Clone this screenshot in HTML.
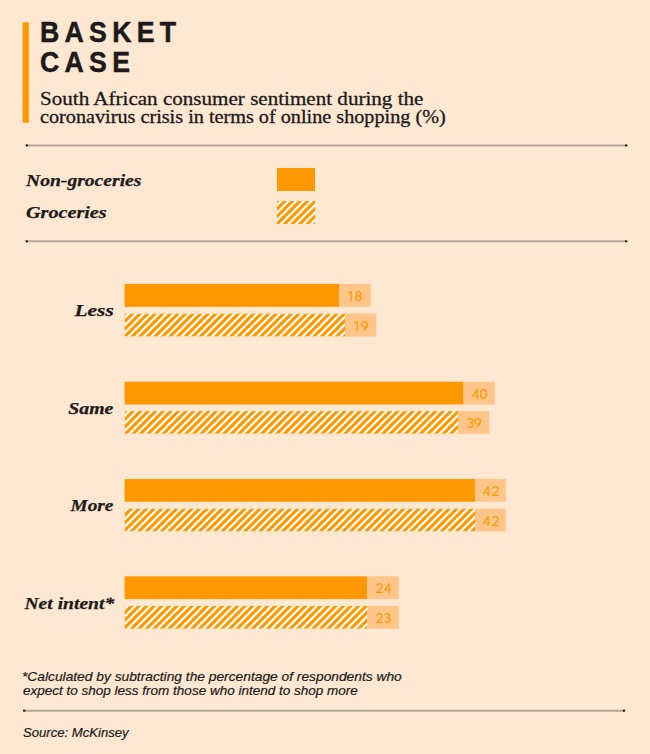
<!DOCTYPE html>
<html><head><meta charset="utf-8">
<style>
html,body{margin:0;padding:0;}
body{width:650px;height:754px;background:#fee8d2;position:relative;overflow:hidden;font-family:'Liberation Sans',sans-serif;}
.a{position:absolute;white-space:nowrap;}
.solid{background:#ff9800;}
</style></head><body>
<svg style="position:absolute;left:0;top:0" width="650" height="754"><defs><clipPath id="c0"><rect x="277" y="201" width="38" height="23"/></clipPath><clipPath id="c1"><rect x="124.6" y="313.55" width="220.4" height="23.0"/></clipPath><clipPath id="c2"><rect x="124.6" y="411.1" width="333.5" height="22.69999999999999"/></clipPath><clipPath id="c3"><rect x="124.6" y="508.6" width="350.5" height="22.850000000000023"/></clipPath><clipPath id="c4"><rect x="124.6" y="606.0" width="242.70000000000002" height="22.75"/></clipPath></defs><g clip-path="url(#c0)"><rect x="277" y="201" width="38" height="23" fill="#ff9800"/><path d="M265.465 200 L268.576 200 L243.576 225 L240.465 225ZM273.033 200 L276.144 200 L251.144 225 L248.033 225ZM280.600 200 L283.711 200 L258.711 225 L255.600 225ZM288.167 200 L291.279 200 L266.279 225 L263.167 225ZM295.735 200 L298.846 200 L273.846 225 L270.735 225ZM303.302 200 L306.414 200 L281.414 225 L278.302 225ZM310.870 200 L313.981 200 L288.981 225 L285.870 225ZM318.437 200 L321.549 200 L296.549 225 L293.437 225ZM326.005 200 L329.116 200 L304.116 225 L301.005 225ZM333.572 200 L336.683 200 L311.683 225 L308.572 225Z" fill="#ffffff"/></g><g clip-path="url(#c1)"><rect x="124.6" y="313.55" width="220.4" height="23.0" fill="#ff9800"/><path d="M113.115 312.55 L116.226 312.55 L91.226 337.55 L88.115 337.55ZM120.683 312.55 L123.794 312.55 L98.794 337.55 L95.683 337.55ZM128.250 312.55 L131.361 312.55 L106.361 337.55 L103.250 337.55ZM135.817 312.55 L138.929 312.55 L113.929 337.55 L110.817 337.55ZM143.385 312.55 L146.496 312.55 L121.496 337.55 L118.385 337.55ZM150.952 312.55 L154.064 312.55 L129.064 337.55 L125.952 337.55ZM158.520 312.55 L161.631 312.55 L136.631 337.55 L133.520 337.55ZM166.087 312.55 L169.199 312.55 L144.199 337.55 L141.087 337.55ZM173.655 312.55 L176.766 312.55 L151.766 337.55 L148.655 337.55ZM181.222 312.55 L184.333 312.55 L159.333 337.55 L156.222 337.55ZM188.790 312.55 L191.901 312.55 L166.901 337.55 L163.790 337.55ZM196.357 312.55 L199.468 312.55 L174.468 337.55 L171.357 337.55ZM203.925 312.55 L207.036 312.55 L182.036 337.55 L178.925 337.55ZM211.492 312.55 L214.603 312.55 L189.603 337.55 L186.492 337.55ZM219.059 312.55 L222.171 312.55 L197.171 337.55 L194.059 337.55ZM226.627 312.55 L229.738 312.55 L204.738 337.55 L201.627 337.55ZM234.194 312.55 L237.306 312.55 L212.306 337.55 L209.194 337.55ZM241.762 312.55 L244.873 312.55 L219.873 337.55 L216.762 337.55ZM249.329 312.55 L252.441 312.55 L227.441 337.55 L224.329 337.55ZM256.897 312.55 L260.008 312.55 L235.008 337.55 L231.897 337.55ZM264.464 312.55 L267.575 312.55 L242.575 337.55 L239.464 337.55ZM272.032 312.55 L275.143 312.55 L250.143 337.55 L247.032 337.55ZM279.599 312.55 L282.710 312.55 L257.710 337.55 L254.599 337.55ZM287.167 312.55 L290.278 312.55 L265.278 337.55 L262.167 337.55ZM294.734 312.55 L297.845 312.55 L272.845 337.55 L269.734 337.55ZM302.302 312.55 L305.413 312.55 L280.413 337.55 L277.302 337.55ZM309.869 312.55 L312.980 312.55 L287.980 337.55 L284.869 337.55ZM317.436 312.55 L320.548 312.55 L295.548 337.55 L292.436 337.55ZM325.004 312.55 L328.115 312.55 L303.115 337.55 L300.004 337.55ZM332.571 312.55 L335.683 312.55 L310.683 337.55 L307.571 337.55ZM340.139 312.55 L343.250 312.55 L318.250 337.55 L315.139 337.55ZM347.706 312.55 L350.818 312.55 L325.818 337.55 L322.706 337.55ZM355.274 312.55 L358.385 312.55 L333.385 337.55 L330.274 337.55ZM362.841 312.55 L365.952 312.55 L340.952 337.55 L337.841 337.55Z" fill="#ffffff"/></g><g clip-path="url(#c2)"><rect x="124.6" y="411.1" width="333.5" height="22.69999999999999" fill="#ff9800"/><path d="M113.565 410.1 L116.676 410.1 L91.976 434.8 L88.865 434.8ZM121.133 410.1 L124.244 410.1 L99.544 434.8 L96.433 434.8ZM128.700 410.1 L131.811 410.1 L107.111 434.8 L104.000 434.8ZM136.267 410.1 L139.379 410.1 L114.679 434.8 L111.567 434.8ZM143.835 410.1 L146.946 410.1 L122.246 434.8 L119.135 434.8ZM151.402 410.1 L154.514 410.1 L129.814 434.8 L126.702 434.8ZM158.970 410.1 L162.081 410.1 L137.381 434.8 L134.270 434.8ZM166.537 410.1 L169.649 410.1 L144.949 434.8 L141.837 434.8ZM174.105 410.1 L177.216 410.1 L152.516 434.8 L149.405 434.8ZM181.672 410.1 L184.783 410.1 L160.083 434.8 L156.972 434.8ZM189.240 410.1 L192.351 410.1 L167.651 434.8 L164.540 434.8ZM196.807 410.1 L199.918 410.1 L175.218 434.8 L172.107 434.8ZM204.375 410.1 L207.486 410.1 L182.786 434.8 L179.675 434.8ZM211.942 410.1 L215.053 410.1 L190.353 434.8 L187.242 434.8ZM219.509 410.1 L222.621 410.1 L197.921 434.8 L194.809 434.8ZM227.077 410.1 L230.188 410.1 L205.488 434.8 L202.377 434.8ZM234.644 410.1 L237.756 410.1 L213.056 434.8 L209.944 434.8ZM242.212 410.1 L245.323 410.1 L220.623 434.8 L217.512 434.8ZM249.779 410.1 L252.891 410.1 L228.191 434.8 L225.079 434.8ZM257.347 410.1 L260.458 410.1 L235.758 434.8 L232.647 434.8ZM264.914 410.1 L268.025 410.1 L243.325 434.8 L240.214 434.8ZM272.482 410.1 L275.593 410.1 L250.893 434.8 L247.782 434.8ZM280.049 410.1 L283.160 410.1 L258.460 434.8 L255.349 434.8ZM287.617 410.1 L290.728 410.1 L266.028 434.8 L262.917 434.8ZM295.184 410.1 L298.295 410.1 L273.595 434.8 L270.484 434.8ZM302.752 410.1 L305.863 410.1 L281.163 434.8 L278.052 434.8ZM310.319 410.1 L313.430 410.1 L288.730 434.8 L285.619 434.8ZM317.886 410.1 L320.998 410.1 L296.298 434.8 L293.186 434.8ZM325.454 410.1 L328.565 410.1 L303.865 434.8 L300.754 434.8ZM333.021 410.1 L336.133 410.1 L311.433 434.8 L308.321 434.8ZM340.589 410.1 L343.700 410.1 L319.000 434.8 L315.889 434.8ZM348.156 410.1 L351.268 410.1 L326.568 434.8 L323.456 434.8ZM355.724 410.1 L358.835 410.1 L334.135 434.8 L331.024 434.8ZM363.291 410.1 L366.402 410.1 L341.702 434.8 L338.591 434.8ZM370.859 410.1 L373.970 410.1 L349.270 434.8 L346.159 434.8ZM378.426 410.1 L381.537 410.1 L356.837 434.8 L353.726 434.8ZM385.994 410.1 L389.105 410.1 L364.405 434.8 L361.294 434.8ZM393.561 410.1 L396.672 410.1 L371.972 434.8 L368.861 434.8ZM401.128 410.1 L404.240 410.1 L379.540 434.8 L376.428 434.8ZM408.696 410.1 L411.807 410.1 L387.107 434.8 L383.996 434.8ZM416.263 410.1 L419.375 410.1 L394.675 434.8 L391.563 434.8ZM423.831 410.1 L426.942 410.1 L402.242 434.8 L399.131 434.8ZM431.398 410.1 L434.510 410.1 L409.810 434.8 L406.698 434.8ZM438.966 410.1 L442.077 410.1 L417.377 434.8 L414.266 434.8ZM446.533 410.1 L449.644 410.1 L424.944 434.8 L421.833 434.8ZM454.101 410.1 L457.212 410.1 L432.512 434.8 L429.401 434.8ZM461.668 410.1 L464.779 410.1 L440.079 434.8 L436.968 434.8ZM469.236 410.1 L472.347 410.1 L447.647 434.8 L444.536 434.8ZM476.803 410.1 L479.914 410.1 L455.214 434.8 L452.103 434.8Z" fill="#ffffff"/></g><g clip-path="url(#c3)"><rect x="124.6" y="508.6" width="350.5" height="22.850000000000023" fill="#ff9800"/><path d="M111.965 507.6 L115.076 507.6 L90.226 532.45 L87.115 532.45ZM119.533 507.6 L122.644 507.6 L97.794 532.45 L94.683 532.45ZM127.100 507.6 L130.211 507.6 L105.361 532.45 L102.250 532.45ZM134.667 507.6 L137.779 507.6 L112.929 532.45 L109.817 532.45ZM142.235 507.6 L145.346 507.6 L120.496 532.45 L117.385 532.45ZM149.802 507.6 L152.914 507.6 L128.064 532.45 L124.952 532.45ZM157.370 507.6 L160.481 507.6 L135.631 532.45 L132.520 532.45ZM164.937 507.6 L168.049 507.6 L143.199 532.45 L140.087 532.45ZM172.505 507.6 L175.616 507.6 L150.766 532.45 L147.655 532.45ZM180.072 507.6 L183.183 507.6 L158.333 532.45 L155.222 532.45ZM187.640 507.6 L190.751 507.6 L165.901 532.45 L162.790 532.45ZM195.207 507.6 L198.318 507.6 L173.468 532.45 L170.357 532.45ZM202.775 507.6 L205.886 507.6 L181.036 532.45 L177.925 532.45ZM210.342 507.6 L213.453 507.6 L188.603 532.45 L185.492 532.45ZM217.909 507.6 L221.021 507.6 L196.171 532.45 L193.059 532.45ZM225.477 507.6 L228.588 507.6 L203.738 532.45 L200.627 532.45ZM233.044 507.6 L236.156 507.6 L211.306 532.45 L208.194 532.45ZM240.612 507.6 L243.723 507.6 L218.873 532.45 L215.762 532.45ZM248.179 507.6 L251.291 507.6 L226.441 532.45 L223.329 532.45ZM255.747 507.6 L258.858 507.6 L234.008 532.45 L230.897 532.45ZM263.314 507.6 L266.425 507.6 L241.575 532.45 L238.464 532.45ZM270.882 507.6 L273.993 507.6 L249.143 532.45 L246.032 532.45ZM278.449 507.6 L281.560 507.6 L256.710 532.45 L253.599 532.45ZM286.017 507.6 L289.128 507.6 L264.278 532.45 L261.167 532.45ZM293.584 507.6 L296.695 507.6 L271.845 532.45 L268.734 532.45ZM301.152 507.6 L304.263 507.6 L279.413 532.45 L276.302 532.45ZM308.719 507.6 L311.830 507.6 L286.980 532.45 L283.869 532.45ZM316.286 507.6 L319.398 507.6 L294.548 532.45 L291.436 532.45ZM323.854 507.6 L326.965 507.6 L302.115 532.45 L299.004 532.45ZM331.421 507.6 L334.533 507.6 L309.683 532.45 L306.571 532.45ZM338.989 507.6 L342.100 507.6 L317.250 532.45 L314.139 532.45ZM346.556 507.6 L349.668 507.6 L324.818 532.45 L321.706 532.45ZM354.124 507.6 L357.235 507.6 L332.385 532.45 L329.274 532.45ZM361.691 507.6 L364.802 507.6 L339.952 532.45 L336.841 532.45ZM369.259 507.6 L372.370 507.6 L347.520 532.45 L344.409 532.45ZM376.826 507.6 L379.937 507.6 L355.087 532.45 L351.976 532.45ZM384.394 507.6 L387.505 507.6 L362.655 532.45 L359.544 532.45ZM391.961 507.6 L395.072 507.6 L370.222 532.45 L367.111 532.45ZM399.528 507.6 L402.640 507.6 L377.790 532.45 L374.678 532.45ZM407.096 507.6 L410.207 507.6 L385.357 532.45 L382.246 532.45ZM414.663 507.6 L417.775 507.6 L392.925 532.45 L389.813 532.45ZM422.231 507.6 L425.342 507.6 L400.492 532.45 L397.381 532.45ZM429.798 507.6 L432.910 507.6 L408.060 532.45 L404.948 532.45ZM437.366 507.6 L440.477 507.6 L415.627 532.45 L412.516 532.45ZM444.933 507.6 L448.044 507.6 L423.194 532.45 L420.083 532.45ZM452.501 507.6 L455.612 507.6 L430.762 532.45 L427.651 532.45ZM460.068 507.6 L463.179 507.6 L438.329 532.45 L435.218 532.45ZM467.636 507.6 L470.747 507.6 L445.897 532.45 L442.786 532.45ZM475.203 507.6 L478.314 507.6 L453.464 532.45 L450.353 532.45ZM482.770 507.6 L485.882 507.6 L461.032 532.45 L457.920 532.45ZM490.338 507.6 L493.449 507.6 L468.599 532.45 L465.488 532.45ZM497.905 507.6 L501.017 507.6 L476.167 532.45 L473.055 532.45Z" fill="#ffffff"/></g><g clip-path="url(#c4)"><rect x="124.6" y="606.0" width="242.70000000000002" height="22.75" fill="#ff9800"/><path d="M111.965 605.0 L115.076 605.0 L90.326 629.75 L87.215 629.75ZM119.533 605.0 L122.644 605.0 L97.894 629.75 L94.783 629.75ZM127.100 605.0 L130.211 605.0 L105.461 629.75 L102.350 629.75ZM134.667 605.0 L137.779 605.0 L113.029 629.75 L109.917 629.75ZM142.235 605.0 L145.346 605.0 L120.596 629.75 L117.485 629.75ZM149.802 605.0 L152.914 605.0 L128.164 629.75 L125.052 629.75ZM157.370 605.0 L160.481 605.0 L135.731 629.75 L132.620 629.75ZM164.937 605.0 L168.049 605.0 L143.299 629.75 L140.187 629.75ZM172.505 605.0 L175.616 605.0 L150.866 629.75 L147.755 629.75ZM180.072 605.0 L183.183 605.0 L158.433 629.75 L155.322 629.75ZM187.640 605.0 L190.751 605.0 L166.001 629.75 L162.890 629.75ZM195.207 605.0 L198.318 605.0 L173.568 629.75 L170.457 629.75ZM202.775 605.0 L205.886 605.0 L181.136 629.75 L178.025 629.75ZM210.342 605.0 L213.453 605.0 L188.703 629.75 L185.592 629.75ZM217.909 605.0 L221.021 605.0 L196.271 629.75 L193.159 629.75ZM225.477 605.0 L228.588 605.0 L203.838 629.75 L200.727 629.75ZM233.044 605.0 L236.156 605.0 L211.406 629.75 L208.294 629.75ZM240.612 605.0 L243.723 605.0 L218.973 629.75 L215.862 629.75ZM248.179 605.0 L251.291 605.0 L226.541 629.75 L223.429 629.75ZM255.747 605.0 L258.858 605.0 L234.108 629.75 L230.997 629.75ZM263.314 605.0 L266.425 605.0 L241.675 629.75 L238.564 629.75ZM270.882 605.0 L273.993 605.0 L249.243 629.75 L246.132 629.75ZM278.449 605.0 L281.560 605.0 L256.810 629.75 L253.699 629.75ZM286.017 605.0 L289.128 605.0 L264.378 629.75 L261.267 629.75ZM293.584 605.0 L296.695 605.0 L271.945 629.75 L268.834 629.75ZM301.152 605.0 L304.263 605.0 L279.513 629.75 L276.402 629.75ZM308.719 605.0 L311.830 605.0 L287.080 629.75 L283.969 629.75ZM316.286 605.0 L319.398 605.0 L294.648 629.75 L291.536 629.75ZM323.854 605.0 L326.965 605.0 L302.215 629.75 L299.104 629.75ZM331.421 605.0 L334.533 605.0 L309.783 629.75 L306.671 629.75ZM338.989 605.0 L342.100 605.0 L317.350 629.75 L314.239 629.75ZM346.556 605.0 L349.668 605.0 L324.918 629.75 L321.806 629.75ZM354.124 605.0 L357.235 605.0 L332.485 629.75 L329.374 629.75ZM361.691 605.0 L364.802 605.0 L340.052 629.75 L336.941 629.75ZM369.259 605.0 L372.370 605.0 L347.620 629.75 L344.509 629.75ZM376.826 605.0 L379.937 605.0 L355.187 629.75 L352.076 629.75ZM384.394 605.0 L387.505 605.0 L362.755 629.75 L359.644 629.75ZM391.961 605.0 L395.072 605.0 L370.322 629.75 L367.211 629.75Z" fill="#ffffff"/></g></svg>
<svg style="position:absolute;left:0;top:0" width="650" height="754"><rect x="124.6" y="283.9" width="214.500" height="22.950" fill="#ff9800"/><rect x="339.1" y="283.9" width="31.600" height="22.950" fill="#ffc589"/><rect x="345.0" y="313.55" width="31.300" height="23.000" fill="#ffc589"/><rect x="124.6" y="381.7" width="339.000" height="22.800" fill="#ff9800"/><rect x="463.6" y="381.7" width="31.200" height="22.800" fill="#ffc589"/><rect x="458.1" y="411.1" width="31.100" height="22.700" fill="#ffc589"/><rect x="124.6" y="479.05" width="350.500" height="22.700" fill="#ff9800"/><rect x="475.1" y="479.05" width="31.000" height="22.700" fill="#ffc589"/><rect x="475.1" y="508.6" width="31.000" height="22.850" fill="#ffc589"/><rect x="124.6" y="576.3" width="242.700" height="22.800" fill="#ff9800"/><rect x="367.3" y="576.3" width="31.500" height="22.800" fill="#ffc589"/><rect x="367.3" y="606.0" width="31.500" height="22.750" fill="#ffc589"/></svg>
<svg style="position:absolute;left:0;top:0" width="40" height="130"><rect x="22.6" y="22.3" width="6.25" height="100.4" fill="#ff9800"/></svg>
<div class="a" style="top:14.851px;font-family:'Liberation Sans',sans-serif;font-size:29px;line-height:34.8px;font-weight:bold;font-style:normal;color:#1c1a1b;letter-spacing:5.75px;-webkit-text-stroke:0.5px #1c1a1b;left:40.000px;transform:scaleX(0.92);transform-origin:0 0;">BASKET</div>
<div class="a" style="top:44.752px;font-family:'Liberation Sans',sans-serif;font-size:29px;line-height:34.8px;font-weight:bold;font-style:normal;color:#1c1a1b;letter-spacing:5.75px;-webkit-text-stroke:0.5px #1c1a1b;left:40.000px;transform:scaleX(0.92);transform-origin:0 0;">CASE</div>
<div class="a" style="top:88.737px;font-family:'Liberation Serif',serif;font-size:18.2px;line-height:21.84px;font-weight:normal;font-style:normal;color:#1c1a1b;-webkit-text-stroke:0.3px #1c1a1b;left:39.500px;transform:scaleX(1.1588);transform-origin:0 0;">South African consumer sentiment during the</div>
<div class="a" style="top:107.438px;font-family:'Liberation Serif',serif;font-size:18.2px;line-height:21.84px;font-weight:normal;font-style:normal;color:#1c1a1b;-webkit-text-stroke:0.3px #1c1a1b;left:40.250px;transform:scaleX(1.111);transform-origin:0 0;">coronavirus crisis in terms of online shopping (%)</div>
<div class="a" style="top:170.188px;font-family:'Liberation Serif',serif;font-size:17.4px;line-height:20.88px;font-weight:bold;font-style:italic;color:#1c1a1b;-webkit-text-stroke:0.25px #1c1a1b;left:25.800px;transform:scaleX(1.127);transform-origin:0 0;">Non-groceries</div>
<div class="a" style="top:201.988px;font-family:'Liberation Serif',serif;font-size:17.4px;line-height:20.88px;font-weight:bold;font-style:italic;color:#1c1a1b;-webkit-text-stroke:0.25px #1c1a1b;left:25.800px;transform:scaleX(1.16);transform-origin:0 0;">Groceries</div>
<div class="a" style="top:300.581px;font-family:'Liberation Serif',serif;font-size:17.3px;line-height:20.76px;font-weight:bold;font-style:italic;color:#1c1a1b;-webkit-text-stroke:0.25px #1c1a1b;right:536.500px;transform:scaleX(1.234);transform-origin:100% 0;">Less</div>
<div class="a" style="top:398.681px;font-family:'Liberation Serif',serif;font-size:17.3px;line-height:20.76px;font-weight:bold;font-style:italic;color:#1c1a1b;-webkit-text-stroke:0.25px #1c1a1b;right:536.500px;transform:scaleX(1.146);transform-origin:100% 0;">Same</div>
<div class="a" style="top:496.181px;font-family:'Liberation Serif',serif;font-size:17.3px;line-height:20.76px;font-weight:bold;font-style:italic;color:#1c1a1b;-webkit-text-stroke:0.25px #1c1a1b;right:536.500px;transform:scaleX(1.117);transform-origin:100% 0;">More</div>
<div class="a" style="top:593.681px;font-family:'Liberation Serif',serif;font-size:17.3px;line-height:20.76px;font-weight:bold;font-style:italic;color:#1c1a1b;-webkit-text-stroke:0.25px #1c1a1b;right:536.000px;transform:scaleX(1.133);transform-origin:100% 0;">Net intent*</div>
<div class="a" style="top:670.353px;font-family:'Liberation Sans',sans-serif;font-size:12.2px;line-height:14.64px;font-weight:normal;font-style:italic;color:#1c1a1b;-webkit-text-stroke:0.2px #1c1a1b;left:21.600px;transform:scaleX(1.13);transform-origin:0 0;">*Calculated by subtracting the percentage of respondents who</div>
<div class="a" style="top:684.153px;font-family:'Liberation Sans',sans-serif;font-size:12.2px;line-height:14.64px;font-weight:normal;font-style:italic;color:#1c1a1b;-webkit-text-stroke:0.2px #1c1a1b;left:22.600px;transform:scaleX(1.108);transform-origin:0 0;">expect to shop less from those who intend to shop more</div>
<div class="a" style="top:726.453px;font-family:'Liberation Sans',sans-serif;font-size:12.2px;line-height:14.64px;font-weight:normal;font-style:italic;color:#1c1a1b;-webkit-text-stroke:0.2px #1c1a1b;left:22.600px;transform:scaleX(1.076);transform-origin:0 0;">Source: McKinsey</div>
<svg style="position:absolute;left:0;top:0" width="650" height="754"><line x1="26.8" y1="145.4" x2="626.2" y2="145.4" stroke="#b5a595" stroke-width="2.0"/><ellipse cx="26.8" cy="145.4" rx="1.3" ry="1.1" fill="#1c1a1b"/><ellipse cx="626.2" cy="145.4" rx="1.3" ry="1.1" fill="#1c1a1b"/><line x1="26.7" y1="241.3" x2="626.2" y2="241.3" stroke="#b5a595" stroke-width="2.0"/><ellipse cx="26.7" cy="241.3" rx="1.3" ry="1.1" fill="#1c1a1b"/><ellipse cx="626.2" cy="241.3" rx="1.3" ry="1.1" fill="#1c1a1b"/><line x1="24.2" y1="710.7" x2="624" y2="710.7" stroke="#b5a595" stroke-width="2.0"/><ellipse cx="24.2" cy="710.7" rx="1.3" ry="1.1" fill="#1c1a1b"/><ellipse cx="624" cy="710.7" rx="1.3" ry="1.1" fill="#1c1a1b"/></svg>
<div class="solid" style="position:absolute;left:277px;width:38px;top:168px;height:23px"></div>
<svg style="position:absolute;left:348.10px;top:290.95px;overflow:visible" width="3.8" height="10" viewBox="0 0 3.8 10"><g fill="none" stroke="#ff9800" stroke-width="1.2" stroke-linejoin="round"><path d="M0.6 2.5 L3.1999999999999997 0.6 L3.1999999999999997 10"/></g></svg><svg style="position:absolute;left:355.10px;top:290.95px;overflow:visible" width="6.7" height="10" viewBox="0 0 6.7 10"><g fill="none" stroke="#ff9800" stroke-width="1.2" stroke-linejoin="round"><ellipse cx="3.35" cy="2.75" rx="2.35" ry="2.15"/><ellipse cx="3.35" cy="7.2" rx="2.75" ry="2.1999999999999997"/></g></svg>
<svg style="position:absolute;left:353.60px;top:320.60px;overflow:visible" width="3.8" height="10" viewBox="0 0 3.8 10"><g fill="none" stroke="#ff9800" stroke-width="1.2" stroke-linejoin="round"><path d="M0.6 2.5 L3.1999999999999997 0.6 L3.1999999999999997 10"/></g></svg><svg style="position:absolute;left:361.30px;top:320.60px;overflow:visible" width="7.1" height="10" viewBox="0 0 7.1 10"><g fill="none" stroke="#ff9800" stroke-width="1.2" stroke-linejoin="round"><ellipse cx="3.55" cy="3.4" rx="2.9499999999999997" ry="2.8"/><path d="M6.35 4.6 L2.6 10"/></g></svg>
<svg style="position:absolute;left:472.10px;top:388.75px;overflow:visible" width="7.2" height="10" viewBox="0 0 7.2 10"><g fill="none" stroke="#ff9800" stroke-width="1.2" stroke-linejoin="round"><path d="M5.2 10 L5.2 0.6 L0.6 7.0 L7.2 7.0"/></g></svg><svg style="position:absolute;left:480.00px;top:388.75px;overflow:visible" width="6.7" height="10" viewBox="0 0 6.7 10"><g fill="none" stroke="#ff9800" stroke-width="1.2" stroke-linejoin="round"><ellipse cx="3.35" cy="5" rx="2.75" ry="4.4"/></g></svg>
<svg style="position:absolute;left:466.60px;top:418.15px;overflow:visible" width="6.5" height="10" viewBox="0 0 6.5 10"><g fill="none" stroke="#ff9800" stroke-width="1.2" stroke-linejoin="round"><path d="M0.8 1.9 C1.4 1.0 2.3 0.6 3.3 0.6 C4.7 0.6 5.6 1.5 5.6 2.7 C5.6 3.9 4.6 4.75 3.0 4.75 C4.9 4.75 5.9 5.8 5.9 7.1 C5.9 8.5 4.8 9.4 3.2 9.4 C2.1 9.4 1.1 8.9 0.6 8.0"/></g></svg><svg style="position:absolute;left:474.40px;top:418.15px;overflow:visible" width="7.1" height="10" viewBox="0 0 7.1 10"><g fill="none" stroke="#ff9800" stroke-width="1.2" stroke-linejoin="round"><ellipse cx="3.55" cy="3.4" rx="2.9499999999999997" ry="2.8"/><path d="M6.35 4.6 L2.6 10"/></g></svg>
<svg style="position:absolute;left:483.10px;top:486.10px;overflow:visible" width="7.2" height="10" viewBox="0 0 7.2 10"><g fill="none" stroke="#ff9800" stroke-width="1.2" stroke-linejoin="round"><path d="M5.2 10 L5.2 0.6 L0.6 7.0 L7.2 7.0"/></g></svg><svg style="position:absolute;left:491.60px;top:486.10px;overflow:visible" width="6.6" height="10" viewBox="0 0 6.6 10"><g fill="none" stroke="#ff9800" stroke-width="1.2" stroke-linejoin="round"><path d="M0.7 2.7 C1.0 1.3 2.1 0.6 3.3 0.6 C4.8 0.6 5.9 1.6 5.9 3.0 C5.9 4.0 5.4 4.8 4.6 5.6 L0.6 9.4 L6.6 9.4"/></g></svg>
<svg style="position:absolute;left:483.10px;top:515.65px;overflow:visible" width="7.2" height="10" viewBox="0 0 7.2 10"><g fill="none" stroke="#ff9800" stroke-width="1.2" stroke-linejoin="round"><path d="M5.2 10 L5.2 0.6 L0.6 7.0 L7.2 7.0"/></g></svg><svg style="position:absolute;left:491.60px;top:515.65px;overflow:visible" width="6.6" height="10" viewBox="0 0 6.6 10"><g fill="none" stroke="#ff9800" stroke-width="1.2" stroke-linejoin="round"><path d="M0.7 2.7 C1.0 1.3 2.1 0.6 3.3 0.6 C4.8 0.6 5.9 1.6 5.9 3.0 C5.9 4.0 5.4 4.8 4.6 5.6 L0.6 9.4 L6.6 9.4"/></g></svg>
<svg style="position:absolute;left:376.00px;top:583.35px;overflow:visible" width="6.6" height="10" viewBox="0 0 6.6 10"><g fill="none" stroke="#ff9800" stroke-width="1.2" stroke-linejoin="round"><path d="M0.7 2.7 C1.0 1.3 2.1 0.6 3.3 0.6 C4.8 0.6 5.9 1.6 5.9 3.0 C5.9 4.0 5.4 4.8 4.6 5.6 L0.6 9.4 L6.6 9.4"/></g></svg><svg style="position:absolute;left:383.90px;top:583.35px;overflow:visible" width="7.2" height="10" viewBox="0 0 7.2 10"><g fill="none" stroke="#ff9800" stroke-width="1.2" stroke-linejoin="round"><path d="M5.2 10 L5.2 0.6 L0.6 7.0 L7.2 7.0"/></g></svg>
<svg style="position:absolute;left:376.00px;top:613.05px;overflow:visible" width="6.6" height="10" viewBox="0 0 6.6 10"><g fill="none" stroke="#ff9800" stroke-width="1.2" stroke-linejoin="round"><path d="M0.7 2.7 C1.0 1.3 2.1 0.6 3.3 0.6 C4.8 0.6 5.9 1.6 5.9 3.0 C5.9 4.0 5.4 4.8 4.6 5.6 L0.6 9.4 L6.6 9.4"/></g></svg><svg style="position:absolute;left:384.10px;top:613.05px;overflow:visible" width="6.5" height="10" viewBox="0 0 6.5 10"><g fill="none" stroke="#ff9800" stroke-width="1.2" stroke-linejoin="round"><path d="M0.8 1.9 C1.4 1.0 2.3 0.6 3.3 0.6 C4.7 0.6 5.6 1.5 5.6 2.7 C5.6 3.9 4.6 4.75 3.0 4.75 C4.9 4.75 5.9 5.8 5.9 7.1 C5.9 8.5 4.8 9.4 3.2 9.4 C2.1 9.4 1.1 8.9 0.6 8.0"/></g></svg>
</body></html>
